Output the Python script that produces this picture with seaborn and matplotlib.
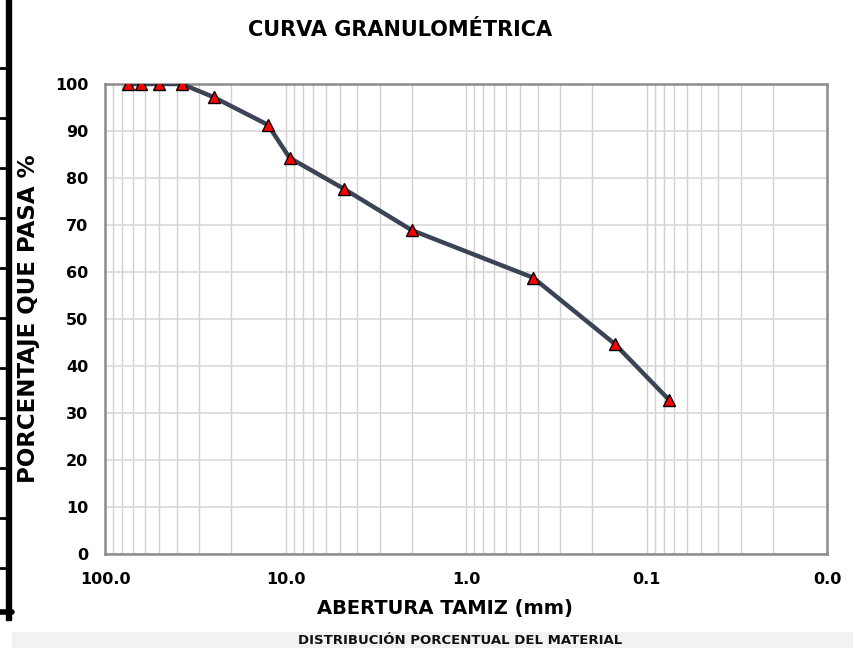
import matplotlib
matplotlib.use("Agg")
import matplotlib.pyplot as plt
import seaborn as sns
import pandas as pd
from matplotlib.ticker import FixedLocator, FixedFormatter, LogLocator, NullFormatter

# data
abertura_mm = [75.0, 63.0, 50.0, 37.5, 25.0, 12.5, 9.5, 4.75, 2.0, 0.425, 0.15, 0.075]
porcentaje_pasa = [100.0, 100.0, 100.0, 100.0, 97.2, 91.3, 84.3, 77.7, 68.9, 58.8, 44.7, 32.8]
x_ticks = [100, 10, 1, 0.1, 0.01]
x_ticklabels = ["100.0", "10.0", "1.0", "0.1", "0.0"]
y_ticks = list(range(0, 101, 10))

df = pd.DataFrame({"abertura": abertura_mm, "pasa": porcentaje_pasa})

sns.set_theme(style="white")
plt.rcParams['font.family'] = ['DejaVu Sans']
plt.rcParams['text.color'] = 'black'
plt.rcParams['axes.labelcolor'] = 'black'
plt.rcParams['xtick.color'] = 'black'
plt.rcParams['ytick.color'] = 'black'

fig = plt.figure(figsize=(8.54, 6.48), dpi=100)
ax = fig.add_axes([105/854, 1-554/648, (827-105)/854, (554-84)/648])

ax.set_xscale("log")
ax.set_xlim(100, 0.01)
ax.set_ylim(0, 100)

ax.grid(True, which="major", axis="y", color="#d9d9d9", lw=1.2)
ax.grid(True, which="both", axis="x", color="#d0d0d0", lw=1.0)
ax.set_axisbelow(True)

sns.lineplot(data=df, x="abertura", y="pasa", ax=ax, color="#3b4454", lw=3.2,
             marker="^", markersize=9, markerfacecolor="#ff0000",
             markeredgecolor="#000000", markeredgewidth=1.0, zorder=5,
             sort=False, estimator=None)

ax.xaxis.set_major_locator(FixedLocator(x_ticks))
ax.xaxis.set_major_formatter(FixedFormatter(x_ticklabels))
ax.xaxis.set_minor_locator(LogLocator(base=10, subs=range(2, 10)))
ax.xaxis.set_minor_formatter(NullFormatter())
ax.set_yticks(y_ticks)
ax.set_yticklabels([str(v) for v in y_ticks])

ax.tick_params(axis="x", which="major", direction="out", length=5, color="#a0a0a0",
               labelsize=11.5, pad=8, labelcolor="black")
ax.tick_params(axis="x", which="minor", length=0)
ax.tick_params(axis="y", length=0, labelsize=11.5, pad=12, labelcolor="black")
for lab in ax.get_xticklabels() + ax.get_yticklabels():
    lab.set_fontweight("bold")

for s in ax.spines.values():
    s.set_color("#8c8c8c")
    s.set_linewidth(1.8)

ax.set_xlabel("ABERTURA TAMIZ (mm)", fontsize=14, fontweight="bold", labelpad=8,
              color="black")
ax.xaxis.set_label_coords((445-105)/(827-105), -0.095)
ax.set_ylabel("PORCENTAJE QUE PASA %", fontsize=16.5, fontweight="bold", color="black")
ax.yaxis.set_label_coords((40-105)/(827-105), 0.5)
fig.text(400/854, 1-30/648, "CURVA GRANULOMÉTRICA", ha="center", va="center",
         fontsize=15, fontweight="bold", color="black")

# page artifacts: left black bar with ticks, bottom grey band with text
fig.patches.append(plt.Rectangle((6/854, 1-620/648), 5/854, 620/648,
                                 transform=fig.transFigure, color="black"))
for yy in [68, 118, 168, 218, 268, 318, 368, 418, 468, 518, 568]:
    fig.lines.append(plt.Line2D([0, 8/854], [1-yy/648, 1-yy/648], transform=fig.transFigure,
                                color="black", lw=2))
fig.lines.append(plt.Line2D([0, 12/854], [1-612/648, 1-612/648], transform=fig.transFigure,
                            color="black", lw=4))
fig.patches.append(plt.Rectangle((12/854, 0), 1, 16/648, transform=fig.transFigure,
                                 color="#f2f2f2"))
fig.text(460/854, 1-640/648, "DISTRIBUCIÓN PORCENTUAL DEL MATERIAL", ha="center",
         va="center", fontsize=9.5, fontweight="bold", color="#111111")

fig.savefig("out.png", dpi=100)
